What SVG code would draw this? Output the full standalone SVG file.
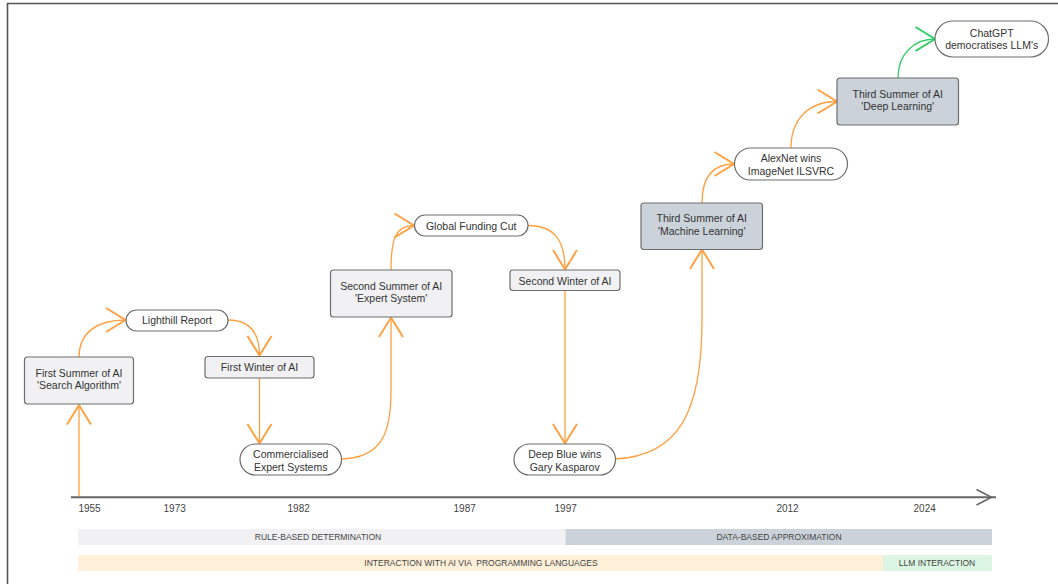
<svg xmlns="http://www.w3.org/2000/svg" width="1058" height="584" viewBox="0 0 1058 584">
<style>
text{font-family:"Liberation Sans",Arial,sans-serif;fill:#333;}
.n{font-size:10.5px;text-anchor:middle;}
.ax{font-size:10px;text-anchor:middle;fill:#444;}
.bar{font-size:8.5px;text-anchor:middle;fill:#444;white-space:pre;}
.lt{fill:#f1f1f3;stroke:#6e6e6e;stroke-width:1.2;}
.dk{fill:#cbd2da;stroke:#6e6e6e;stroke-width:1.2;}
.st{fill:#fff;stroke:#6e6e6e;stroke-width:1.2;}
.c{fill:none;stroke:#ffa040;stroke-width:1.3;marker-end:url(#ao);}
.g{fill:none;stroke:#2fcc66;stroke-width:1.3;marker-end:url(#ag);}
</style>
<defs>
<marker id="ao" markerUnits="userSpaceOnUse" markerWidth="30" markerHeight="30" refX="0" refY="0" viewBox="-15 -10 17 20" orient="auto" overflow="visible">
<path d="M-13,-8 L0,0 L-13,8" fill="none" stroke="#ffa040" stroke-width="1.3"/>
</marker>
<marker id="ag" markerUnits="userSpaceOnUse" markerWidth="30" markerHeight="30" refX="0" refY="0" viewBox="-15 -10 17 20" orient="auto" overflow="visible">
<path d="M-13,-8 L0,0 L-13,8" fill="none" stroke="#2fcc66" stroke-width="1.3"/>
</marker>
</defs>
<rect width="1058" height="584" fill="#fff"/>
<path d="M7.5,584 V3.5 H1058" fill="none" stroke="#555" stroke-width="1.6"/>

<g id="bars">
<rect x="78" y="529" width="487.5" height="16" fill="#f1f1f3"/>
<rect x="565.5" y="529" width="426.5" height="16" fill="#cbd2da"/>
<text class="bar" x="318" y="540">RULE-BASED DETERMINATION</text>
<text class="bar" x="779" y="540">DATA-BASED APPROXIMATION</text>
<rect x="78" y="555" width="805" height="16" fill="#fef0d9"/>
<rect x="883" y="555" width="109" height="16" fill="#dcf6e3"/>
<text class="bar" x="481" y="566" xml:space="preserve">INTERACTION WITH AI VIA  PROGRAMMING LANGUAGES</text>
<text class="bar" x="937" y="566">LLM INTERACTION</text>
</g>

<g id="axis">
<line x1="71" y1="497.3" x2="996" y2="497.3" stroke="#666" stroke-width="2"/>
<path d="M976.5,489.5 L991.5,497.3 L976.5,505" fill="none" stroke="#666" stroke-width="1.6"/>
<text class="ax" x="89.5" y="511.5">1955</text>
<text class="ax" x="174.7" y="511.5">1973</text>
<text class="ax" x="298.7" y="511.5">1982</text>
<text class="ax" x="464.7" y="511.5">1987</text>
<text class="ax" x="565.7" y="511.5">1997</text>
<text class="ax" x="787.5" y="511.5">2012</text>
<text class="ax" x="924.7" y="511.5">2024</text>
</g>

<g id="connectors">
<path class="c" d="M79,496 V405"/>
<path class="c" d="M79,357 C79,334 95,320 125.5,320"/>
<path class="c" d="M228,320 C250,320 259.5,333 259.5,355.5"/>
<path class="c" d="M259.5,378 V443.5"/>
<path class="c" d="M341,459 C384,458 391,430 391,390 L391,317.5"/>
<path class="c" d="M391,270 C391,238 396,225.5 414,225.5"/>
<path class="c" d="M528,225.5 C554,225.5 565,240 565,269.5"/>
<path class="c" d="M565,290.5 V443.5"/>
<path class="c" d="M615,459 C680,456 702,410 702,320 L702,249.5"/>
<path class="c" d="M702,203 C702,178 712,164 734,164"/>
<path class="c" d="M791,148 C791,120 808,101.5 837,101.5"/>
<path class="g" d="M898,78 C898,54 914,39 935,39"/>
</g>

<g id="n1"><rect class="lt" x="24.5" y="357" width="109" height="47" rx="3"/>
<text class="n" x="79" y="376.5">First Summer of AI</text><text class="n" x="79" y="389">'Search Algorithm'</text></g>
<g id="n2"><rect class="st" x="126" y="310" width="102" height="21" rx="10.5"/>
<text class="n" x="177" y="324">Lighthill Report</text></g>
<g id="n3"><rect class="lt" x="205" y="356.5" width="109" height="21.5" rx="3"/>
<text class="n" x="259.5" y="371">First Winter of AI</text></g>
<g id="n4"><rect class="st" x="240" y="444" width="101.5" height="31" rx="15.5"/>
<text class="n" x="290.7" y="458">Commercialised</text><text class="n" x="290.7" y="470.5">Expert Systems</text></g>
<g id="n5"><rect class="lt" x="330.5" y="270" width="121.5" height="47" rx="3"/>
<text class="n" x="391.2" y="289.5">Second Summer of AI</text><text class="n" x="391.2" y="302">'Expert System'</text></g>
<g id="n6"><rect class="st" x="414.5" y="215" width="113.5" height="21" rx="10.5"/>
<text class="n" x="471.2" y="229.5">Global Funding Cut</text></g>
<g id="n7"><rect class="lt" x="510" y="270" width="110" height="20.5" rx="3"/>
<text class="n" x="565" y="284.5">Second Winter of AI</text></g>
<g id="n8"><rect class="st" x="514" y="444" width="101.5" height="31" rx="15.5"/>
<text class="n" x="564.7" y="458">Deep Blue wins</text><text class="n" x="564.7" y="470.5">Gary Kasparov</text></g>
<g id="n9"><rect class="dk" x="641" y="203" width="121.5" height="46.5" rx="3"/>
<text class="n" x="701.7" y="222">Third Summer of AI</text><text class="n" x="701.7" y="234.5">'Machine Learning'</text></g>
<g id="n10"><rect class="st" x="734.5" y="148" width="113" height="32" rx="16"/>
<text class="n" x="791" y="162">AlexNet wins</text><text class="n" x="791" y="174.5">ImageNet ILSVRC</text></g>
<g id="n11"><rect class="dk" x="837" y="78" width="121.5" height="47" rx="3"/>
<text class="n" x="897.7" y="97.5">Third Summer of AI</text><text class="n" x="897.7" y="110">'Deep Learning'</text></g>
<g id="n12"><rect class="st" x="935" y="21" width="113.5" height="36" rx="18"/>
<text class="n" x="991.7" y="36.5">ChatGPT</text><text class="n" x="991.7" y="49">democratises LLM's</text></g>
</svg>
